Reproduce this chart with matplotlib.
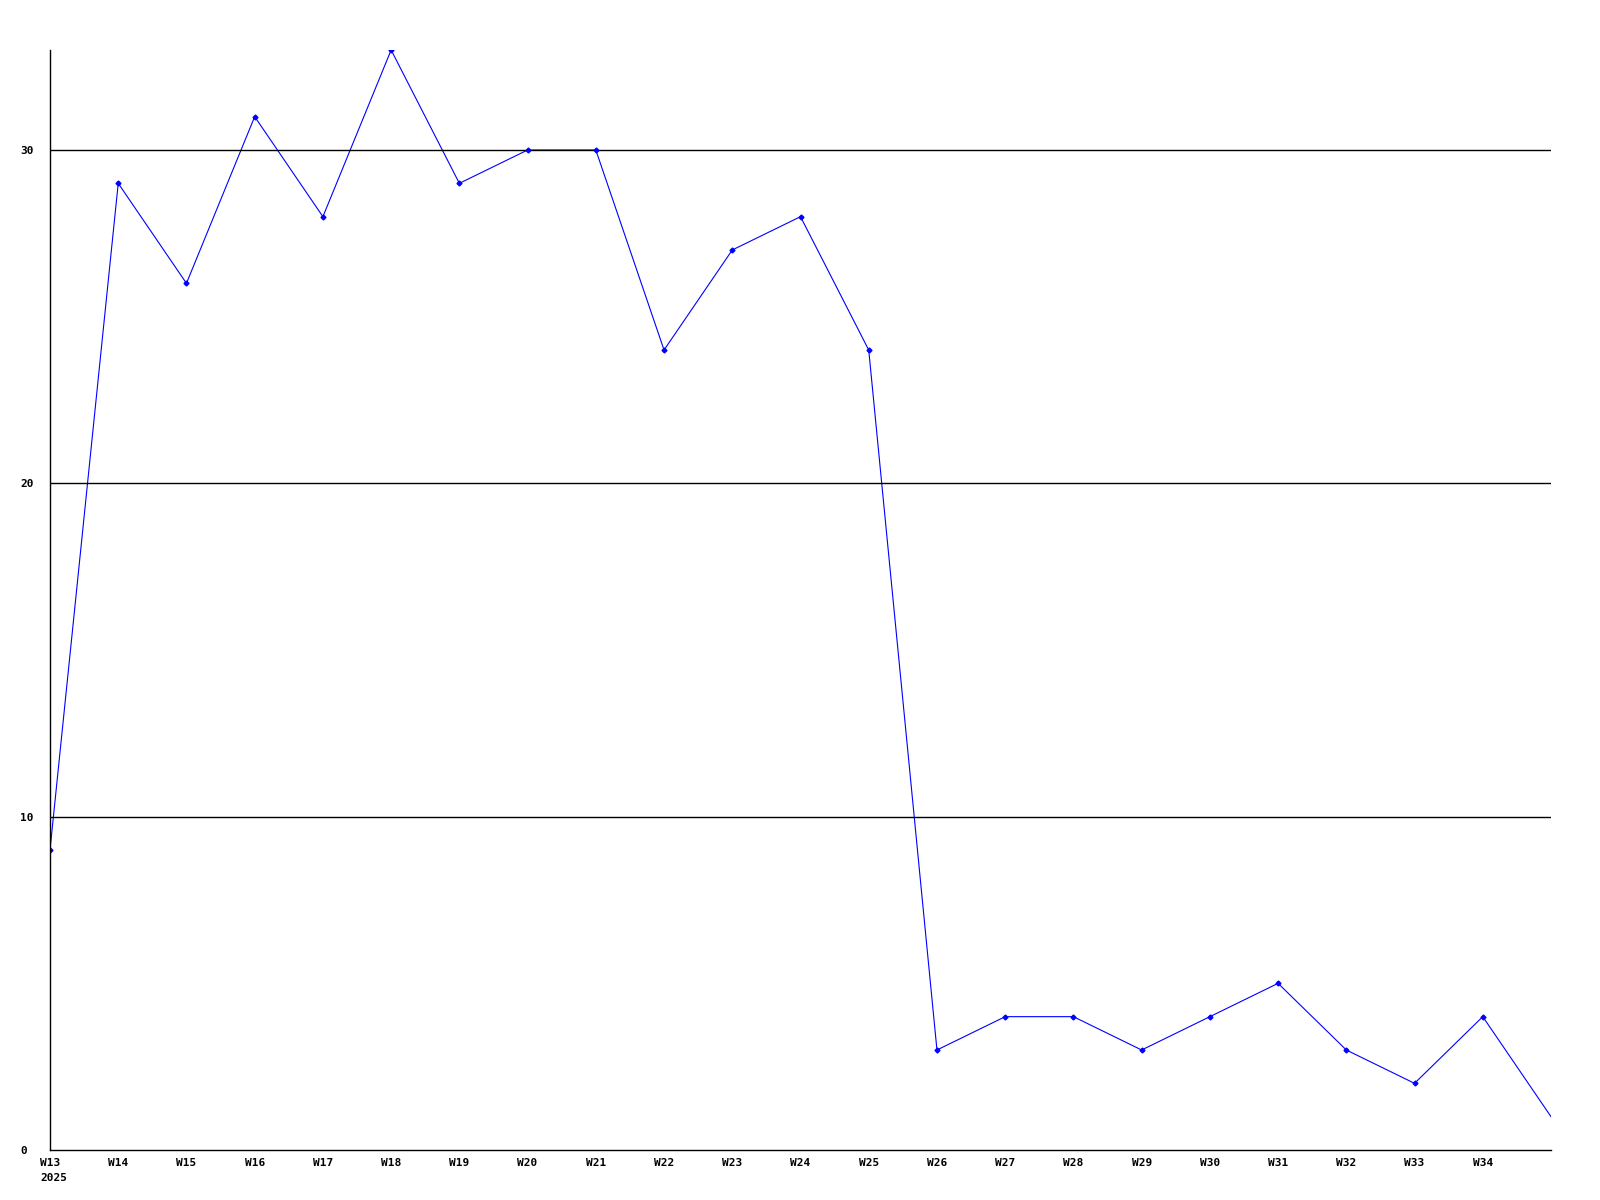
import numpy as np
import matplotlib
matplotlib.use('Agg')
import matplotlib.pyplot as plt

weeks = list(range(13, 36))
values = [9, 29, 26, 31, 28, 33, 29, 30, 30, 24, 27, 28, 24, 3, 4, 4, 3, 4, 5, 3, 2, 4, 1]
tick_weeks = list(range(13, 35))
tick_labels = ['W%d' % w for w in tick_weeks]
year_label = '2025'
yticks = [0, 10, 20, 30]

plt.rcParams['font.family'] = 'DejaVu Sans Mono'
plt.rcParams['font.weight'] = 'bold'

fig = plt.figure(figsize=(16, 12), dpi=100)
ax = fig.add_axes([50/1600, 50/1200, 1501/1600, 1100/1200])

for y in yticks[1:]:
    ax.axhline(y, color='black', lw=1, zorder=3)

ax.plot(weeks, values, color='#0000ff', lw=0.8, zorder=2)
ax.plot(weeks[:-1], values[:-1], ls='none', marker='D', ms=2.5, color='#0000ff', zorder=4)

ax.set_xlim(13, 35)
ax.set_ylim(0, 33)
ax.set_xticks(tick_weeks)
ax.set_xticklabels(tick_labels, fontsize=8, fontweight='bold')
ax.set_yticks(yticks)
ax.set_yticklabels([str(v) for v in yticks], fontsize=8, fontweight='bold')
for lab in ax.get_yticklabels():
    lab.set_horizontalalignment('left')
ax.tick_params(axis='y', length=0, pad=21.6)
ax.tick_params(axis='x', length=0, pad=6)

fig.text(40/1600, 1 - 1178/1200, year_label, fontsize=8, fontweight='bold',
         ha='left', va='center')

for s in ['top', 'right']:
    ax.spines[s].set_visible(False)
for s in ['left', 'bottom']:
    ax.spines[s].set_linewidth(1)
    ax.spines[s].set_zorder(5)

fig.savefig('out.png', dpi=100)
